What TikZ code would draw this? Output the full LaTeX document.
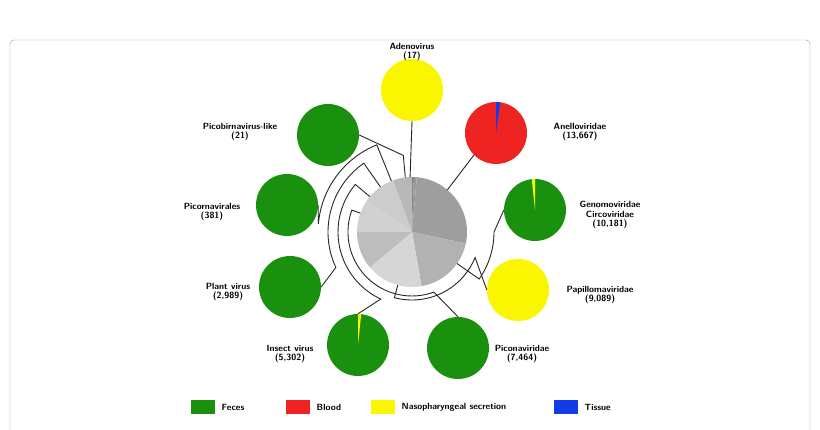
\documentclass[tikz,border=0pt]{standalone}
\usepackage{tikz}
\usetikzlibrary{positioning,calc}
\definecolor{feces}{RGB}{25,145,15}
\definecolor{blood}{RGB}{240,35,35}
\definecolor{naso}{RGB}{250,245,0}
\definecolor{tissue}{RGB}{20,60,230}
\tikzset{
  src/.style={circle, minimum size=62\px, inner sep=0pt},
  lab/.style={font=\sffamily\bfseries\fontsize{9}{9.5}\selectfont, align=center},
  link/.style={line width=0.9pt, black!85},
  key/.style={minimum width=24\px, minimum height=14\px, inner sep=0pt}
}
\newlength{\px}\setlength{\px}{0.0352cm}
\begin{document}
\begin{tikzpicture}[x=\px,y=\px]
      \useasboundingbox (0,0) rectangle (820,430);
      \draw [black!40, rounded corners=4] (10,-5) -- (10,390) -- (810,390) -- (810,-5);
      % source circles
      \node [src, fill=naso]   (ad) at (412,340) {};
      \node [src, fill=blood]  (an) at (496,297) {};
      \node [src, fill=feces]  (gm) at (535,220) {};
      \node [src, fill=naso]   (pp) at (518,140) {};
      \node [src, fill=feces]  (pc) at (458, 82) {};
      \node [src, fill=feces]  (in) at (358, 85) {};
      \node [src, fill=feces]  (pl) at (290,143) {};
      \node [src, fill=feces]  (pr) at (287,225) {};
      \node [src, fill=feces]  (pb) at (328,295) {};
      \fill [tissue] (an.center) -- ($(an.center)+(90:31)$) arc[start angle=90, end angle=82, radius=31] -- cycle;
      \fill [naso] (gm.center) -- ($(gm.center)+(90:31)$) arc[start angle=90, end angle=96, radius=31] -- cycle;
      \fill [naso] (in.center) -- ($(in.center)+(90:31)$) arc[start angle=90, end angle=84, radius=31] -- cycle;
      % centre pie
      \coordinate (C) at (412,198);
      \foreach \a/\b/\g in {90/88/50, 88/85/40, 85/-12/38, -12/-80/30, -80/-140/16, -140/-180/26, -180/-215/18, -215/-250/20, -250/-270/28}
        \fill [black!\g] (C) -- ($(C)+(\a:55)$) arc[start angle=\a, end angle=\b, radius=55] -- cycle;
      % connectors
      \draw [link] ($(C)+(92:55)$) -- (ad.south);
      \draw [link] ($(C)+(97:55)$) -- ++(-2,22) -- (pb.east);
      \draw [link] ($(C)+(50:55)$) -- (an.south west);
      \draw [link] ($(C)+(-35:55)$) -- ($(C)+(-35:82)$) arc[start angle=-35, end angle=0, radius=82] -- (gm.west);
      \draw [link] ($(C)+(-105:55)$) -- ($(C)+(-105:68)$) arc[start angle=-105, end angle=-22, radius=68] -- (pp.west);
      \draw [link] ($(C)+(160:55)$) -- ($(C)+(160:64)$) arc[start angle=160, end angle=290, radius=64] -- (pc.north);
      \draw [link] ($(C)+(140:55)$) -- ($(C)+(140:74)$) arc[start angle=140, end angle=245, radius=74] -- (in.north);
      \draw [link] ($(C)+(125:55)$) -- ($(C)+(125:84)$) arc[start angle=125, end angle=205, radius=84] -- (pl.east);
      \draw [link] ($(C)+(112:55)$) -- ($(C)+(112:94)$) arc[start angle=112, end angle=175, radius=94] -- (pr.east);
      % labels
      \node [lab] (tad) at (412,378) {Adenovirus\\(17)};
      \node [lab] (tan) at (580,298) {Anelloviridae\\(13,667)};
      \node [lab] (tgm) at (610,215) {Genomoviridae\\Circoviridae\\(10,181)};
      \node [lab] (tpp) at (600,135) {Papillomaviridae\\(9,089)};
      \node [lab] (tpc) at (522, 76) {Piconaviridae\\(7,464)};
      \node [lab] (tin) at (290, 76) {Insect virus\\(5,302)};
      \node [lab] (tpl) at (228,138) {Plant virus\\(2,989)};
      \node [lab] (tpr) at (212,218) {Picornavirales\\(381)};
      \node [lab] (tpb) at (240,298) {Picobirnavirus-like\\(21)};
      % legend
      \node [key, fill=feces]  (kf) at (203,23) {};
      \node [lab, right=3\px of kf] (lf) {Feces};
      \node [key, fill=blood]  (kb) at (298,23) {};
      \node [lab, right=3\px of kb] (lb) {Blood};
      \node [key, fill=naso]   (kn) at (383,23) {};
      \node [lab, right=3\px of kn] (ln) {Nasopharyngeal secretion};
      \node [key, fill=tissue] (kt) at (566,23) {};
      \node [lab, right=3\px of kt] (lt) {Tissue};
\end{tikzpicture}
\end{document}
